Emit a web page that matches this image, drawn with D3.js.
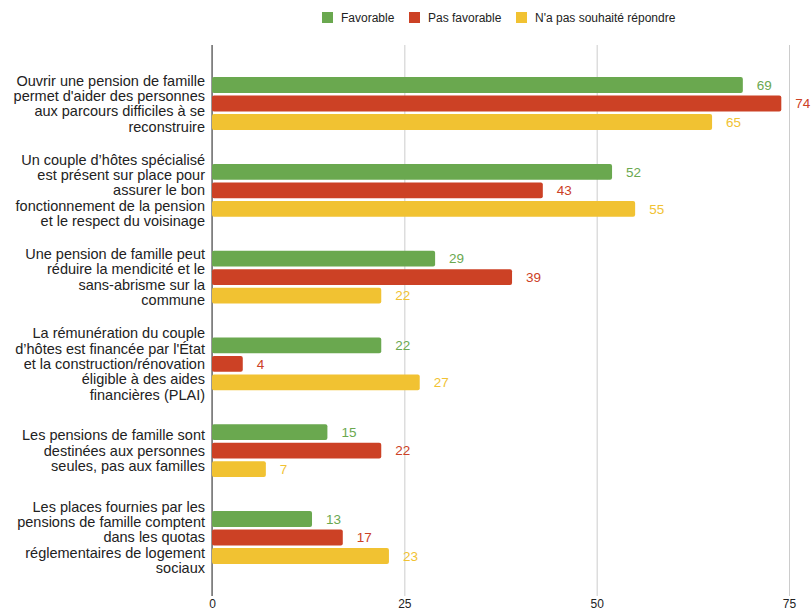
<!DOCTYPE html>
<html><head><meta charset="utf-8">
<script src="https://cdn.jsdelivr.net/npm/d3@7"></script>
<style>
body{margin:0;background:#fff;}
text{font-family:"Liberation Sans",Arial,Helvetica,sans-serif;}
</style></head><body>
<svg id="chart" width="811" height="611"></svg>
<script>
const categories = [
  "Ouvrir une pension de famille\npermet d'aider des personnes\naux parcours difficiles à se\nreconstruire",
  "Un couple d’hôtes spécialisé\nest présent sur place pour\nassurer le bon\nfonctionnement de la pension\net le respect du voisinage",
  "Une pension de famille peut\nréduire la mendicité et le\nsans-abrisme sur la\ncommune",
  "La rémunération du couple\nd’hôtes est financée par l'État\net la construction/rénovation\néligible à des aides\nfinancières (PLAI)",
  "Les pensions de famille sont\ndestinées aux personnes\nseules, pas aux familles",
  "Les places fournies par les\npensions de famille comptent\ndans les quotas\nréglementaires de logement\nsociaux"
];
const seriesNames = ["Favorable", "Pas favorable", "N'a pas souhaité répondre"];
const favorable = [69, 52, 29, 22, 15, 13];
const pasFavorable = [74, 43, 39, 4, 22, 17];
const nonReponse = [65, 55, 22, 27, 7, 23];
const xTicks = [0, 25, 50, 75];
const colors = ["#6aa84f", "#cc4125", "#f1c232"];

const series = [favorable, pasFavorable, nonReponse];
const svg = d3.select("#chart");
const mLeft = 212, mRight = 789, mTop = 45, mBottom = 596;

const x = d3.scaleLinear().domain([0, 75]).range([mLeft, mRight]);
const y0 = d3.scaleBand().domain(d3.range(categories.length)).range([mTop, mBottom])
  .paddingInner(0.39).paddingOuter(0.37);
const y1 = d3.scaleBand().domain(d3.range(series.length)).range([0, y0.bandwidth()]).paddingInner(0.14);

// gridlines
const xAxis = d3.axisBottom(x).tickValues(xTicks).tickSize(-(mBottom - mTop)).tickPadding(3);
const gx = svg.append("g").attr("transform", `translate(0,${mBottom})`).call(xAxis);
gx.select(".domain").remove();
gx.selectAll(".tick line").attr("stroke", "#cccccc");
gx.selectAll(".tick text").attr("fill", "#222").attr("font-size", 12);
// zero axis line
svg.append("line").attr("x1", x(0)).attr("x2", x(0)).attr("y1", mTop).attr("y2", mBottom)
  .attr("stroke", "#333").attr("stroke-width", 1);

// bars
const groups = svg.append("g").selectAll("g").data(categories).join("g")
  .attr("transform", (d, i) => `translate(0,${y0(i)})`);
groups.each(function(c, i) {
  const g = d3.select(this);
  series.forEach((s, j) => {
    const v = s[i];
    g.append("rect").attr("x", x(0)).attr("y", y1(j))
      .attr("width", x(v) - x(0)).attr("height", y1.bandwidth())
      .attr("rx", 2).attr("fill", colors[j]);
    g.append("text").attr("x", x(v) + 14).attr("y", y1(j) + y1.bandwidth() / 2)
      .attr("dy", "0.35em").attr("font-size", 13.5).attr("fill", colors[j])
      .text(v);
  });
  // category label
  const lines = c.split("\n");
  const lh = 15.4;
  const cy = y0.bandwidth() / 2;
  const t = g.append("text").attr("text-anchor", "end").attr("font-size", 14.5).attr("fill", "#222");
  lines.forEach((ln, k) => {
    t.append("tspan").attr("x", 205)
      .attr("y", cy + (k - (lines.length - 1) / 2) * lh)
      .attr("dy", "0.35em").text(ln);
  });
});

// legend
const legendX = [322, 409, 516];
const lg = svg.append("g");
seriesNames.forEach((n, j) => {
  lg.append("rect").attr("x", legendX[j]).attr("y", 12).attr("width", 11).attr("height", 11).attr("fill", colors[j]);
  lg.append("text").attr("x", legendX[j] + 19).attr("y", 17.5).attr("dy", "0.35em")
    .attr("font-size", 12).attr("fill", "#222").text(n);
});
</script>
</body></html>
